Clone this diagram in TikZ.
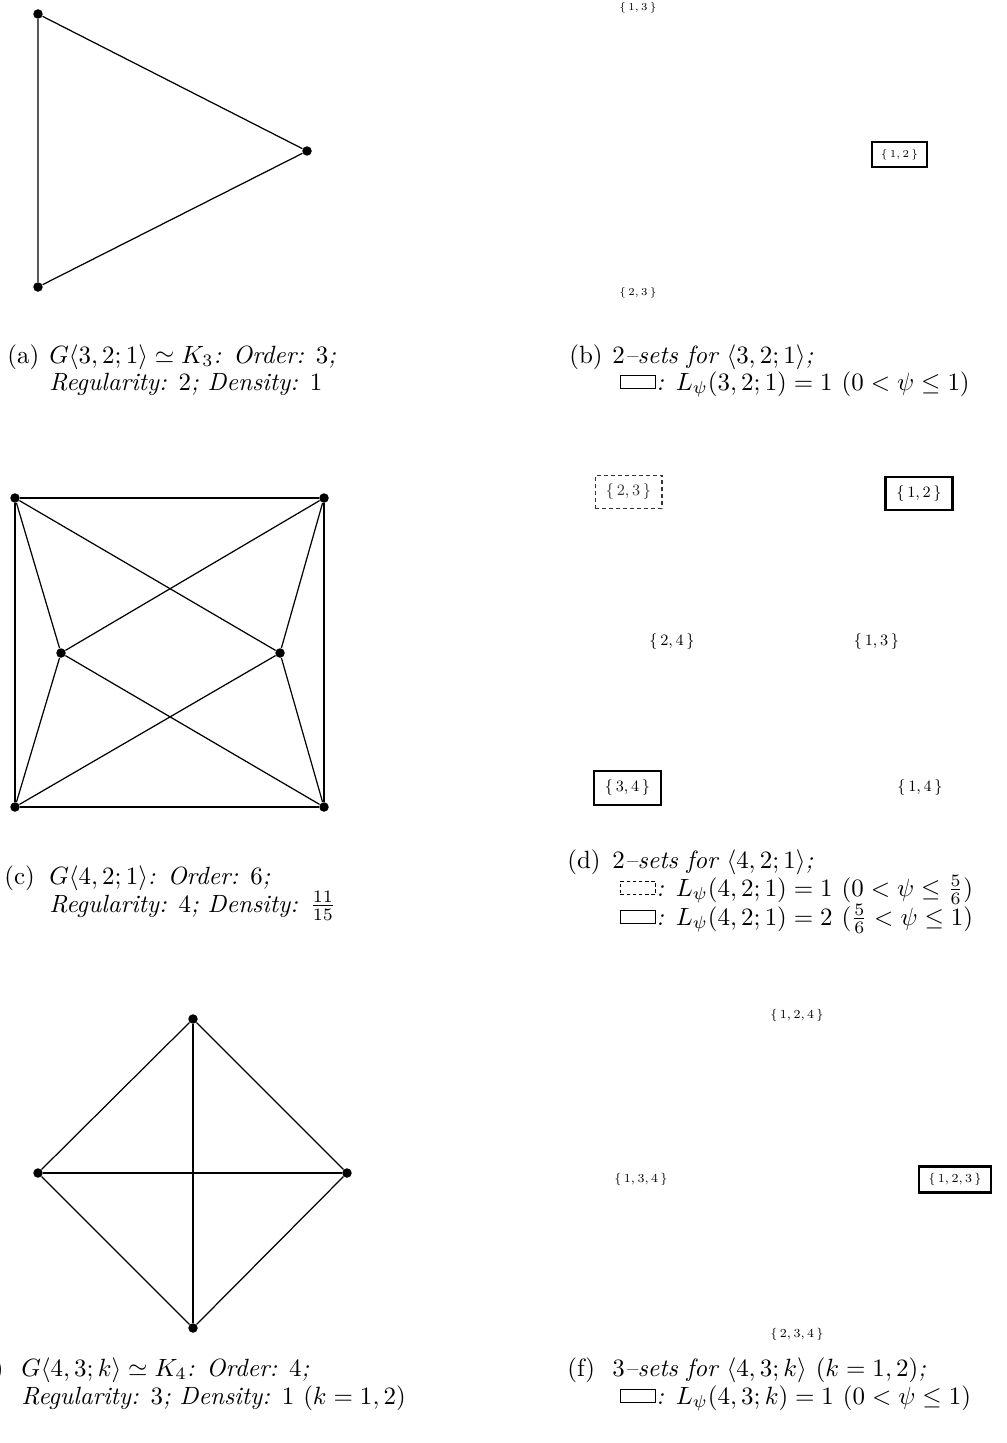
\documentclass[tikz,border=0pt]{standalone}
\usepackage{amsmath}
\usepackage{amssymb}
\usepackage{graphicx}
\usepackage{tikz}

\newcommand{\capline}[1]{\scalebox{1.42}{#1}}

\begin{document}
\begin{tikzpicture}[x=0.02cm,y=-0.02cm,
    vertex/.style={circle,fill,inner sep=0pt,minimum size=0.19cm},
    edge/.style={line width=0.7pt},
    setb/.style={font=\fontsize{6.5}{7}\selectfont,inner xsep=4.9pt,inner ysep=4.1pt},
    setd/.style={font=\fontsize{9}{10}\selectfont,inner xsep=6.2pt,inner ysep=5pt},
    setf/.style={font=\fontsize{7.5}{8}\selectfont,inner xsep=5.3pt,inner ysep=3.9pt},
    chosen/.style={draw,line width=1.2pt},
    rival/.style={draw,dash pattern=on 2.2pt off 1.8pt,line width=0.6pt,black!80},
    captext/.style={anchor=base west,inner sep=0pt,font=\fontsize{10}{12}\selectfont\itshape},
    captag/.style={anchor=base west,inner sep=0pt,font=\fontsize{10}{12}\selectfont},
    legend/.style={line width=0.5pt,minimum width=0.7cm,minimum height=0.27cm,inner sep=0pt,anchor=south west}]
    \useasboundingbox (0,0) rectangle (1007,1443);

    % (a) K_3
    \node[vertex] (a1) at (38,14) {};
    \node[vertex] (a2) at (307,151) {};
    \node[vertex] (a3) at (38,287) {};
    \draw[edge] (a1) -- (a2) -- (a3) -- (a1);
    \node[captag] (capa) at (7,363) {\capline{(a)}};
    \node[captext] (capa1) at (49,363) {\capline{$G\langle 3,2;1\rangle\simeq K_3$: Order: $3$;}};
    \node[captext] (capa2) at (49,390) {\capline{Regularity: $2$; Density: $1$}};

    % (b) 2-sets
    \node[setb] (b13) at (638,8) {$\{\,1,3\,\}$};
    \node[setb,chosen] (b12) at (899.5,154.5) {$\{\,1,2\,\}$};
    \node[setb] (b23) at (638,293) {$\{\,2,3\,\}$};
    \node[captag] (capb) at (569,363) {\capline{(b)}};
    \node[captext] (capb1) at (612,363) {\capline{$2$--sets for $\langle 3,2;1\rangle$;}};
    \node[legend,draw] (legb) at (620,389) {};
    \node[captext] (capb2) at (656,390) {\capline{: $L_\psi(3,2;1)=1$ $(0<\psi\le 1)$}};

    % (c) G<4,2;1>
    \node[vertex] (c1) at (15,498) {};
    \node[vertex] (c2) at (324,498) {};
    \node[vertex] (c3) at (15,807) {};
    \node[vertex] (c4) at (324,807) {};
    \node[vertex] (c5) at (61,653) {};
    \node[vertex] (c6) at (280,653) {};
    \draw[edge] (c1) -- (c2) -- (c4) -- (c3) -- (c1);
    \draw[edge] (c1) -- (c5) -- (c3);
    \draw[edge] (c2) -- (c6) -- (c4);
    \draw[edge] (c1) -- (c6) -- (c3);
    \draw[edge] (c2) -- (c5) -- (c4);
    \node[captag] (capc) at (4,884) {\capline{(c)}};
    \node[captext] (capc1) at (49,884) {\capline{$G\langle 4,2;1\rangle$: Order: $6$;}};
    \node[captext] (capc2) at (49,912) {\capline{Regularity: $4$; Density: $\frac{11}{15}$}};

    % (d) 2-sets
    \node[setd,rival] (d23) at (628.5,492) {$\{\,2,3\,\}$};
    \node[setd,chosen] (d12) at (919,493.5) {$\{\,1,2\,\}$};
    \node[setd] (d24) at (672,641.5) {$\{\,2,4\,\}$};
    \node[setd] (d13) at (876.5,641.5) {$\{\,1,3\,\}$};
    \node[setd,chosen] (d34) at (627.5,788) {$\{\,3,4\,\}$};
    \node[setd] (d14) at (920,788) {$\{\,1,4\,\}$};
    \node[captag] (capd) at (567,868) {\capline{(d)}};
    \node[captext] (capd1) at (612,868) {\capline{$2$--sets for $\langle 4,2;1\rangle$;}};
    \node[legend,draw,dash pattern=on 2pt off 1.5pt] (legd1) at (620,895) {};
    \node[captext] (capd2) at (656,896) {\capline{: $L_\psi(4,2;1)=1$ $(0<\psi\le \frac{5}{6})$}};
    \node[legend,draw] (legd2) at (620,924) {};
    \node[captext] (capd3) at (656,925) {\capline{: $L_\psi(4,2;1)=2$ $(\frac{5}{6}<\psi\le 1)$}};

    % (e) K_4
    \node[vertex] (e1) at (193,1019) {};
    \node[vertex] (e2) at (38,1173) {};
    \node[vertex] (e3) at (347,1173) {};
    \node[vertex] (e4) at (193,1328) {};
    \draw[edge] (e1) -- (e2) -- (e4) -- (e3) -- (e1);
    \draw[edge] (e1) -- (e4);
    \draw[edge] (e2) -- (e3);
    \node[captag,anchor=base east] (cape) at (4,1376) {\capline{(e)}};
    \node[captext] (cape1) at (21,1376) {\capline{$G\langle 4,3;k\rangle\simeq K_4$: Order: $4$;}};
    \node[captext] (cape2) at (21,1404) {\capline{Regularity: $3$; Density: $1$ $(k=1,2)$}};

    % (f) 3-sets
    \node[setf] (f124) at (797,1015) {$\{\,1,2,4\,\}$};
    \node[setf] (f134) at (641,1179) {$\{\,1,3,4\,\}$};
    \node[setf,chosen] (f123) at (955,1179.5) {$\{\,1,2,3\,\}$};
    \node[setf] (f234) at (797,1334) {$\{\,2,3,4\,\}$};
    \node[captag] (capf) at (567,1376) {\capline{(f)}};
    \node[captext] (capf1) at (612,1376) {\capline{$3$--sets for $\langle 4,3;k\rangle$ $(k=1,2)$;}};
    \node[legend,draw] (legf) at (620,1403) {};
    \node[captext] (capf2) at (656,1404) {\capline{: $L_\psi(4,3;k)=1$ $(0<\psi\le 1)$}};
\end{tikzpicture}
\end{document}
